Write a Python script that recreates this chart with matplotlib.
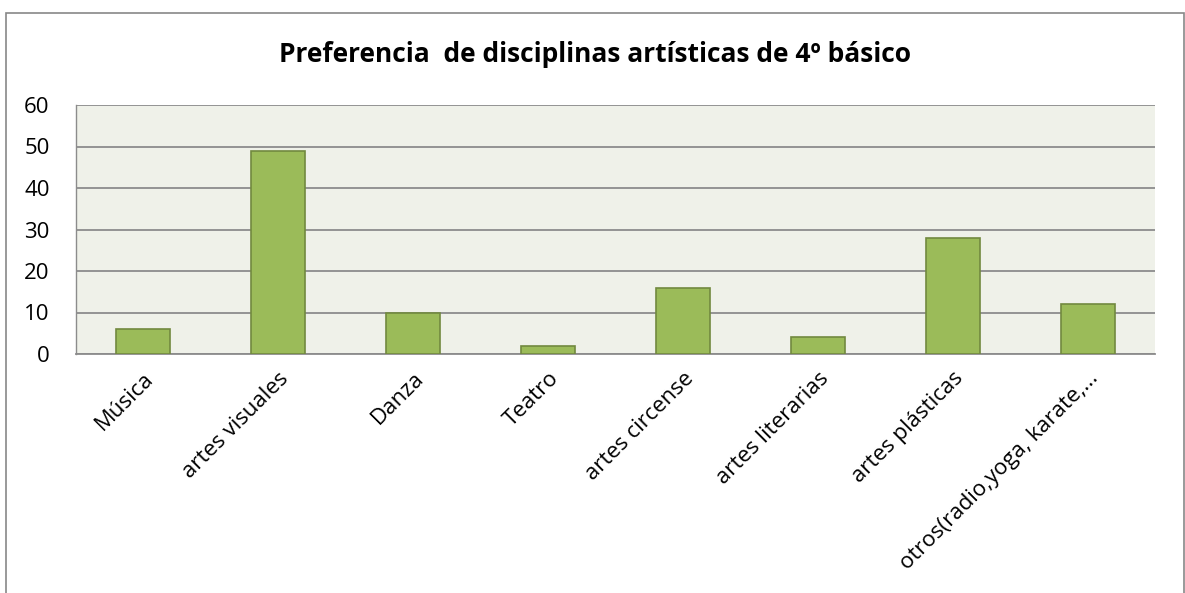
import matplotlib
matplotlib.use("Agg")
import matplotlib.pyplot as plt
from matplotlib.patches import Rectangle

# data
categorias = ["Música", "artes visuales", "Danza", "Teatro", "artes circense",
              "artes literarias", "artes plásticas", "otros(radio,yoga, karate,..."]
valores = [6, 49, 10, 2, 16, 4, 28, 12]
y_ticks = [0, 10, 20, 30, 40, 50, 60]

plt.rcParams['font.family'] = ['Open Sans', 'DejaVu Sans']

W, H = 1185, 593
fig = plt.figure(figsize=(W / 100, H / 100), dpi=100)

# outer chart frame (bottom edge runs off the picture)
fig.patches.append(Rectangle((6 / W, -0.05), (1184 - 6) / W, 1.05 - 13 / H,
                             transform=fig.transFigure, fill=False,
                             edgecolor='#878787', linewidth=1.2))

ax = fig.add_axes([76 / W, 1 - 354 / H, (1155 - 76) / W, (354 - 105) / H])
ax.set_facecolor('#EFF1E9')

x = range(len(categorias))
ax.bar(x, valores, width=0.4, color='#9BBB59', edgecolor='#71893F', linewidth=1.2, zorder=3)

ax.set_xlim(-0.5, len(categorias) - 0.5)
ax.set_ylim(0, 60)
ax.set_yticks(y_ticks)
ax.set_yticklabels([str(v) for v in y_ticks], fontsize=16)
ax.yaxis.grid(True, color='#8C8C8C', linewidth=1.3, zorder=0)
ax.tick_params(axis='y', length=0, pad=19)
ax.tick_params(axis='x', length=0, pad=10)

ax.set_xticks(list(x))
ax.set_xticklabels(categorias, rotation=45, ha='right', va='top',
                   rotation_mode='anchor', fontsize=16)

for s in ['left', 'right', 'top']:
    ax.spines[s].set_color('#8C8C8C')
    ax.spines[s].set_linewidth(1.0)
ax.spines['bottom'].set_color('#8C8C8C')
ax.spines['bottom'].set_linewidth(1.3)
ax.spines['right'].set_visible(False)
ax.spines['top'].set_visible(False)

fig.text(595 / W, 1 - 55 / H, "Preferencia  de disciplinas artísticas de 4º básico",
         ha='center', va='center', fontsize=19, fontweight='bold')

plt.savefig('out.png', dpi=100)
